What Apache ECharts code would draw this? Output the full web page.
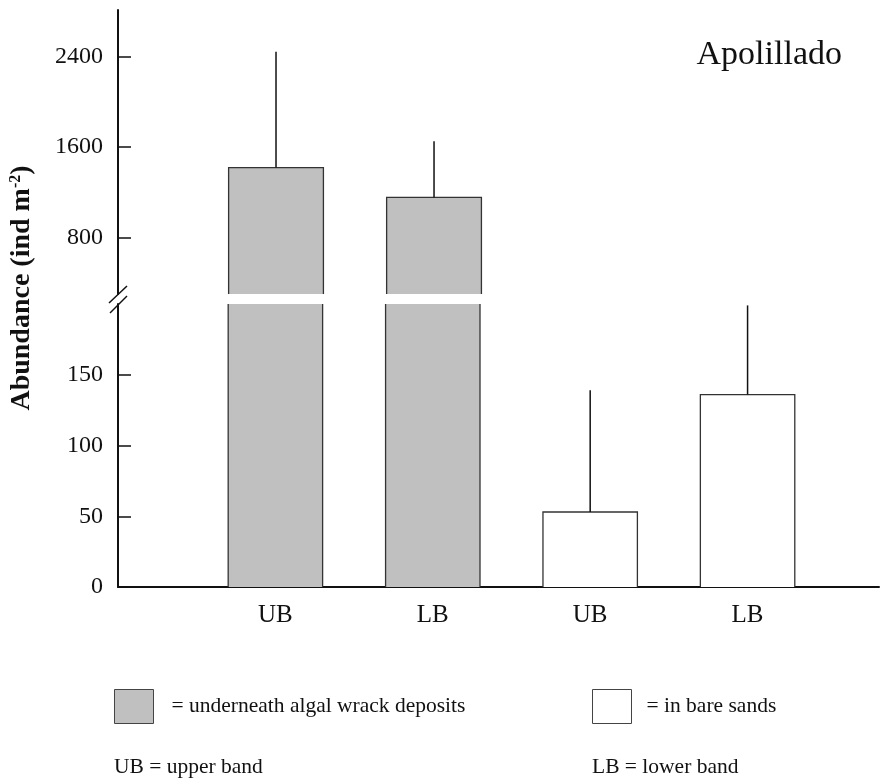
<!DOCTYPE html>
<html>
<head>
<meta charset="utf-8">
<script src="https://cdn.jsdelivr.net/npm/echarts@6/dist/echarts.min.js"></script>
<style>html,body{margin:0;padding:0;background:#fff}#c{width:882px;height:781px}</style>
</head>
<body>
<div id="c"></div>
<script>
// ---- data ----
const categories = ['UB', 'LB', 'UB', 'LB'];
const groups = ['wrack', 'wrack', 'bare', 'bare'];
const means = [1420, 1155, 53, 136];
const errTops = [2445, 1653, 139, 199];
const groupNames = { wrack: 'underneath algal wrack deposits', bare: 'in bare sands' };
const upperTicks = [800, 1600, 2400];
const lowerTicks = [0, 50, 100, 150];
const chartTitle = 'Apolillado';
const yName = 'Abundance (ind m';
const footnotes = ['UB = upper band', 'LB = lower band'];

// ---- styles ----
const FONT = 'Liberation Serif';
const fills = { wrack: '#c0c0c0', bare: '#ffffff' };
const edge = '#333333';

function renderBar(params, api) {
  const xv = api.value(0), yv = api.value(1), ev = api.value(2);
  const cs = params.coordSys;
  const yMin = cs.y, yMax = cs.y + cs.height;
  const top = api.coord([xv, yv]);
  const base = api.coord([xv, 0]);
  const errP = api.coord([xv, ev]);
  const bw = api.size([0.6, 0])[0];
  const xl = top[0] - bw / 2, xr = top[0] + bw / 2;
  const yt = Math.max(top[1], yMin), yb = Math.min(base[1], yMax);
  const children = [];
  if (yt < yb) {
    children.push({ type: 'rect', shape: { x: xl, y: yt, width: bw, height: yb - yt },
      style: { fill: api.visual('color'), stroke: null } });
    if (top[1] >= yMin) {
      children.push({ type: 'polyline', shape: { points: [[xl, yb], [xl, yt], [xr, yt], [xr, yb]] },
        style: { stroke: edge, lineWidth: 1.3, fill: null } });
    } else {
      children.push({ type: 'line', shape: { x1: xl, y1: yt, x2: xl, y2: yb }, style: { stroke: edge, lineWidth: 1.3 } });
      children.push({ type: 'line', shape: { x1: xr, y1: yt, x2: xr, y2: yb }, style: { stroke: edge, lineWidth: 1.3 } });
    }
  }
  const e1 = Math.min(Math.max(top[1], yMin), yMax);
  const e2 = Math.min(Math.max(errP[1], yMin), yMax);
  if (e1 - e2 > 0.5) {
    children.push({ type: 'line', shape: { x1: top[0], y1: e1, x2: top[0], y2: e2 },
      style: { stroke: '#111', lineWidth: 1.5 } });
  }
  return { type: 'group', children };
}

function seriesFor(group, gridIdx) {
  const data = [];
  for (let i = 0; i < categories.length; i++) {
    if (groups[i] === group) data.push([i + 1, means[i], errTops[i]]);
  }
  return {
    type: 'custom', name: groupNames[group], xAxisIndex: gridIdx, yAxisIndex: gridIdx,
    itemStyle: { color: fills[group], borderColor: edge, borderWidth: 1 },
    renderItem: renderBar, data, clip: false, silent: true
  };
}

const axisLineStyle = { show: true, lineStyle: { color: '#111', width: 2 } };
const tickLabel = { fontFamily: FONT, fontSize: 24, color: '#111', margin: 15, formatter: v => String(v) };

const option = {
  backgroundColor: '#fff',
  animation: false,
  title: [
    { text: chartTitle, right: 40, top: 38, padding: 0,
      textStyle: { fontFamily: FONT, fontSize: 34, fontWeight: 'normal', color: '#111' } },
    { text: footnotes[0], left: 114, top: 756, padding: 0,
      textStyle: { fontFamily: FONT, fontSize: 21.5, fontWeight: 'normal', color: '#111' } },
    { text: footnotes[1], left: 592, top: 756, padding: 0,
      textStyle: { fontFamily: FONT, fontSize: 21.5, fontWeight: 'normal', color: '#111' } }
  ],
  legend: [
    { data: [groupNames.wrack], left: 114, top: 689, padding: 0, icon: 'rect', itemWidth: 39, itemHeight: 34,
      formatter: '= {name}', selectedMode: false,
      itemStyle: { borderColor: '#444', borderWidth: 1 },
      textStyle: { fontFamily: FONT, fontSize: 21.5, color: '#111', padding: [0, 0, 0, 13] } },
    { data: [groupNames.bare], left: 592, top: 689, padding: 0, icon: 'rect', itemWidth: 39, itemHeight: 34,
      formatter: '= {name}', selectedMode: false,
      itemStyle: { borderColor: '#444', borderWidth: 1 },
      textStyle: { fontFamily: FONT, fontSize: 21.5, color: '#111', padding: [0, 0, 0, 10] } }
  ],
  grid: [
    { left: 118, right: 0, top: 304, height: 283 },
    { left: 118, right: 0, top: 10, height: 284 },
    { left: 118, right: 0, top: 0, height: 576 }
  ],
  xAxis: [
    { type: 'value', gridIndex: 0, min: 0, max: 4.835, interval: 1,
      axisLine: axisLineStyle, axisTick: { show: false }, splitLine: { show: false },
      axisLabel: { fontFamily: FONT, fontSize: 25, color: '#111', margin: 16,
        formatter: v => (Number.isInteger(v) && v >= 1 && v <= categories.length) ? categories[v - 1] : '' } },
    { type: 'value', gridIndex: 1, min: 0, max: 4.835, show: false },
    { type: 'value', gridIndex: 2, min: 0, max: 1, show: false }
  ],
  yAxis: [
    { type: 'value', gridIndex: 0, min: 0, max: 200,
      axisLine: axisLineStyle, splitLine: { show: false },
      axisTick: { show: true, inside: true, length: 13, customValues: lowerTicks, lineStyle: { color: '#111', width: 1.5 } },
      axisLabel: Object.assign({ customValues: lowerTicks }, tickLabel) },
    { type: 'value', gridIndex: 1, min: 300, max: 2815,
      axisLine: axisLineStyle, splitLine: { show: false },
      axisTick: { show: true, inside: true, length: 13, customValues: upperTicks, lineStyle: { color: '#111', width: 1.5 } },
      axisLabel: Object.assign({ customValues: upperTicks }, tickLabel) },
    { type: 'value', gridIndex: 2, min: 0, max: 1,
      axisLine: { show: false }, axisTick: { show: false }, axisLabel: { show: false }, splitLine: { show: false },
      name: '{a|' + yName + '}{s|-2}{a|)}', nameLocation: 'middle', nameGap: 82, nameRotate: 90,
      nameTextStyle: { rich: {
        a: { fontFamily: FONT, fontSize: 28, fontWeight: 'bold', color: '#111' },
        s: { fontFamily: FONT, fontSize: 16, fontWeight: 'bold', color: '#111', verticalAlign: 'top', padding: [0, 0, 10, 0] }
      } } }
  ],
  series: [
    seriesFor('wrack', 0), seriesFor('bare', 0),
    seriesFor('wrack', 1), seriesFor('bare', 1)
  ],
  graphic: [
    { type: 'line', shape: { x1: 109, y1: 303, x2: 127, y2: 286 }, style: { stroke: '#111', lineWidth: 1.5 } },
    { type: 'line', shape: { x1: 110, y1: 313, x2: 127, y2: 296 }, style: { stroke: '#111', lineWidth: 1.5 } }
  ]
};

const chart = echarts.init(document.getElementById('c'), null, { renderer: 'canvas' });
chart.setOption(option);
</script>
</body>
</html>
